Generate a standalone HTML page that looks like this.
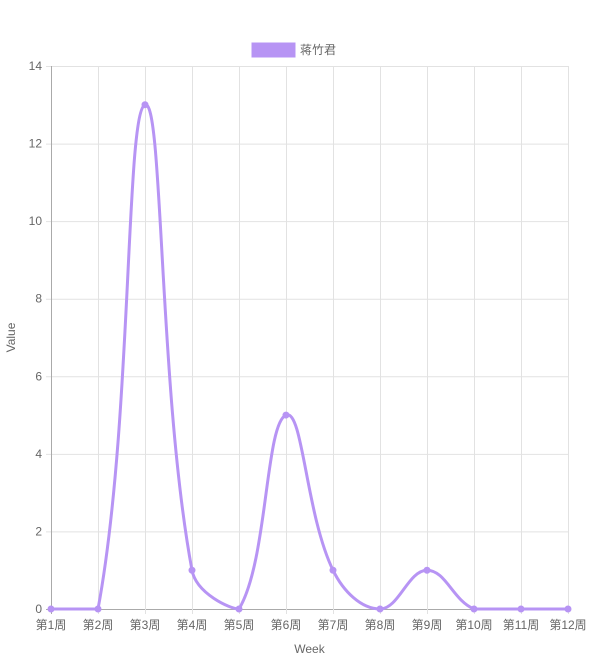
<!DOCTYPE html>
<html><head><meta charset="utf-8"><style>
html,body{margin:0;padding:0;background:#fff;}
svg text{font-family:"Liberation Sans","Noto Sans CJK SC",sans-serif;fill:#666;font-size:12px;}
</style></head><body>
<svg id="c" width="590" height="662"></svg>
<script>
const categories=['第1周','第2周','第3周','第4周','第5周','第6周','第7周','第8周','第9周','第10周','第11周','第12周'];
const values=[0,0,13,1,0,5,1,0,1,0,0,0];
const yTicks=[0,2,4,6,8,10,12,14];
const seriesName='蒋竹君';
const NS='http://www.w3.org/2000/svg';
const svg=document.getElementById('c');
const L=51,R=568,T=66,B=609,yMax=14;
const xs=i=>L+i*(R-L)/(categories.length-1);
const ys=v=>B-v/yMax*(B-T);
function el(t,a,p){const e=document.createElementNS(NS,t);for(const k in a)e.setAttribute(k,a[k]);(p||svg).appendChild(e);return e;}
// grid
yTicks.forEach(v=>{const y=ys(v)+0.5;
const g=el('line',{x1:L-5,x2:R,y1:y,y2:y,stroke:v===0?'#aaa':'#e2e2e2','stroke-width':1});


const t=el('text',{x:L-9,y:ys(v)+4,'text-anchor':'end'});t.textContent=v;

});
categories.forEach((c,i)=>{const x=xs(i)+0.5;
const g=el('line',{x1:x,x2:x,y1:T,y2:B+5,stroke:i===0?'#aaa':'#e2e2e2','stroke-width':1});


const t=el('text',{x:xs(i),y:B+20,'text-anchor':'middle'});t.textContent=c;

});
// axis titles
const yt=el('text',{x:0,y:0,'text-anchor':'middle',transform:'translate(15,'+((T+B)/2)+') rotate(-90)'});yt.textContent='Value';


const xt=el('text',{x:(L+R)/2,y:653,'text-anchor':'middle'});xt.textContent='Week';


// legend
const lb=el('rect',{x:252,y:43,width:43,height:14,fill:'#b794f4',stroke:'#b794f4'});


const lt=el('text',{x:300,y:54});lt.textContent=seriesName;


// spline (Chart.js tension 0.4, capped)
const pts=values.map((v,i)=>({x:xs(i),y:ys(v)}));
const t=0.4;const cp=pts.map((p,i)=>{
 const a=pts[Math.max(0,i-1)],c=pts[Math.min(pts.length-1,i+1)];
 const d01=Math.hypot(p.x-a.x,p.y-a.y),d12=Math.hypot(c.x-p.x,c.y-p.y);
 let fa=d01/(d01+d12),fb=d12/(d01+d12);if(isNaN(fa))fa=0;if(isNaN(fb))fb=0;
 const cap=(x,y)=>({x:Math.min(R,Math.max(L,x)),y:Math.min(B,Math.max(T,y))});
 return {p:cap(p.x-fa*t*(c.x-a.x),p.y-fa*t*(c.y-a.y)),n:cap(p.x+fb*t*(c.x-a.x),p.y+fb*t*(c.y-a.y))};
});
let d='M'+pts[0].x+' '+pts[0].y;
for(let i=1;i<pts.length;i++){d+=' C'+cp[i-1].n.x+' '+cp[i-1].n.y+' '+cp[i].p.x+' '+cp[i].p.y+' '+pts[i].x+' '+pts[i].y;}
const line=el('path',{d:d,fill:'none',stroke:'#b794f4','stroke-width':3});


pts.forEach(p=>{const c=el('circle',{cx:p.x,cy:p.y,r:3.5,fill:'#b794f4'});

});
</script>
</body></html>
